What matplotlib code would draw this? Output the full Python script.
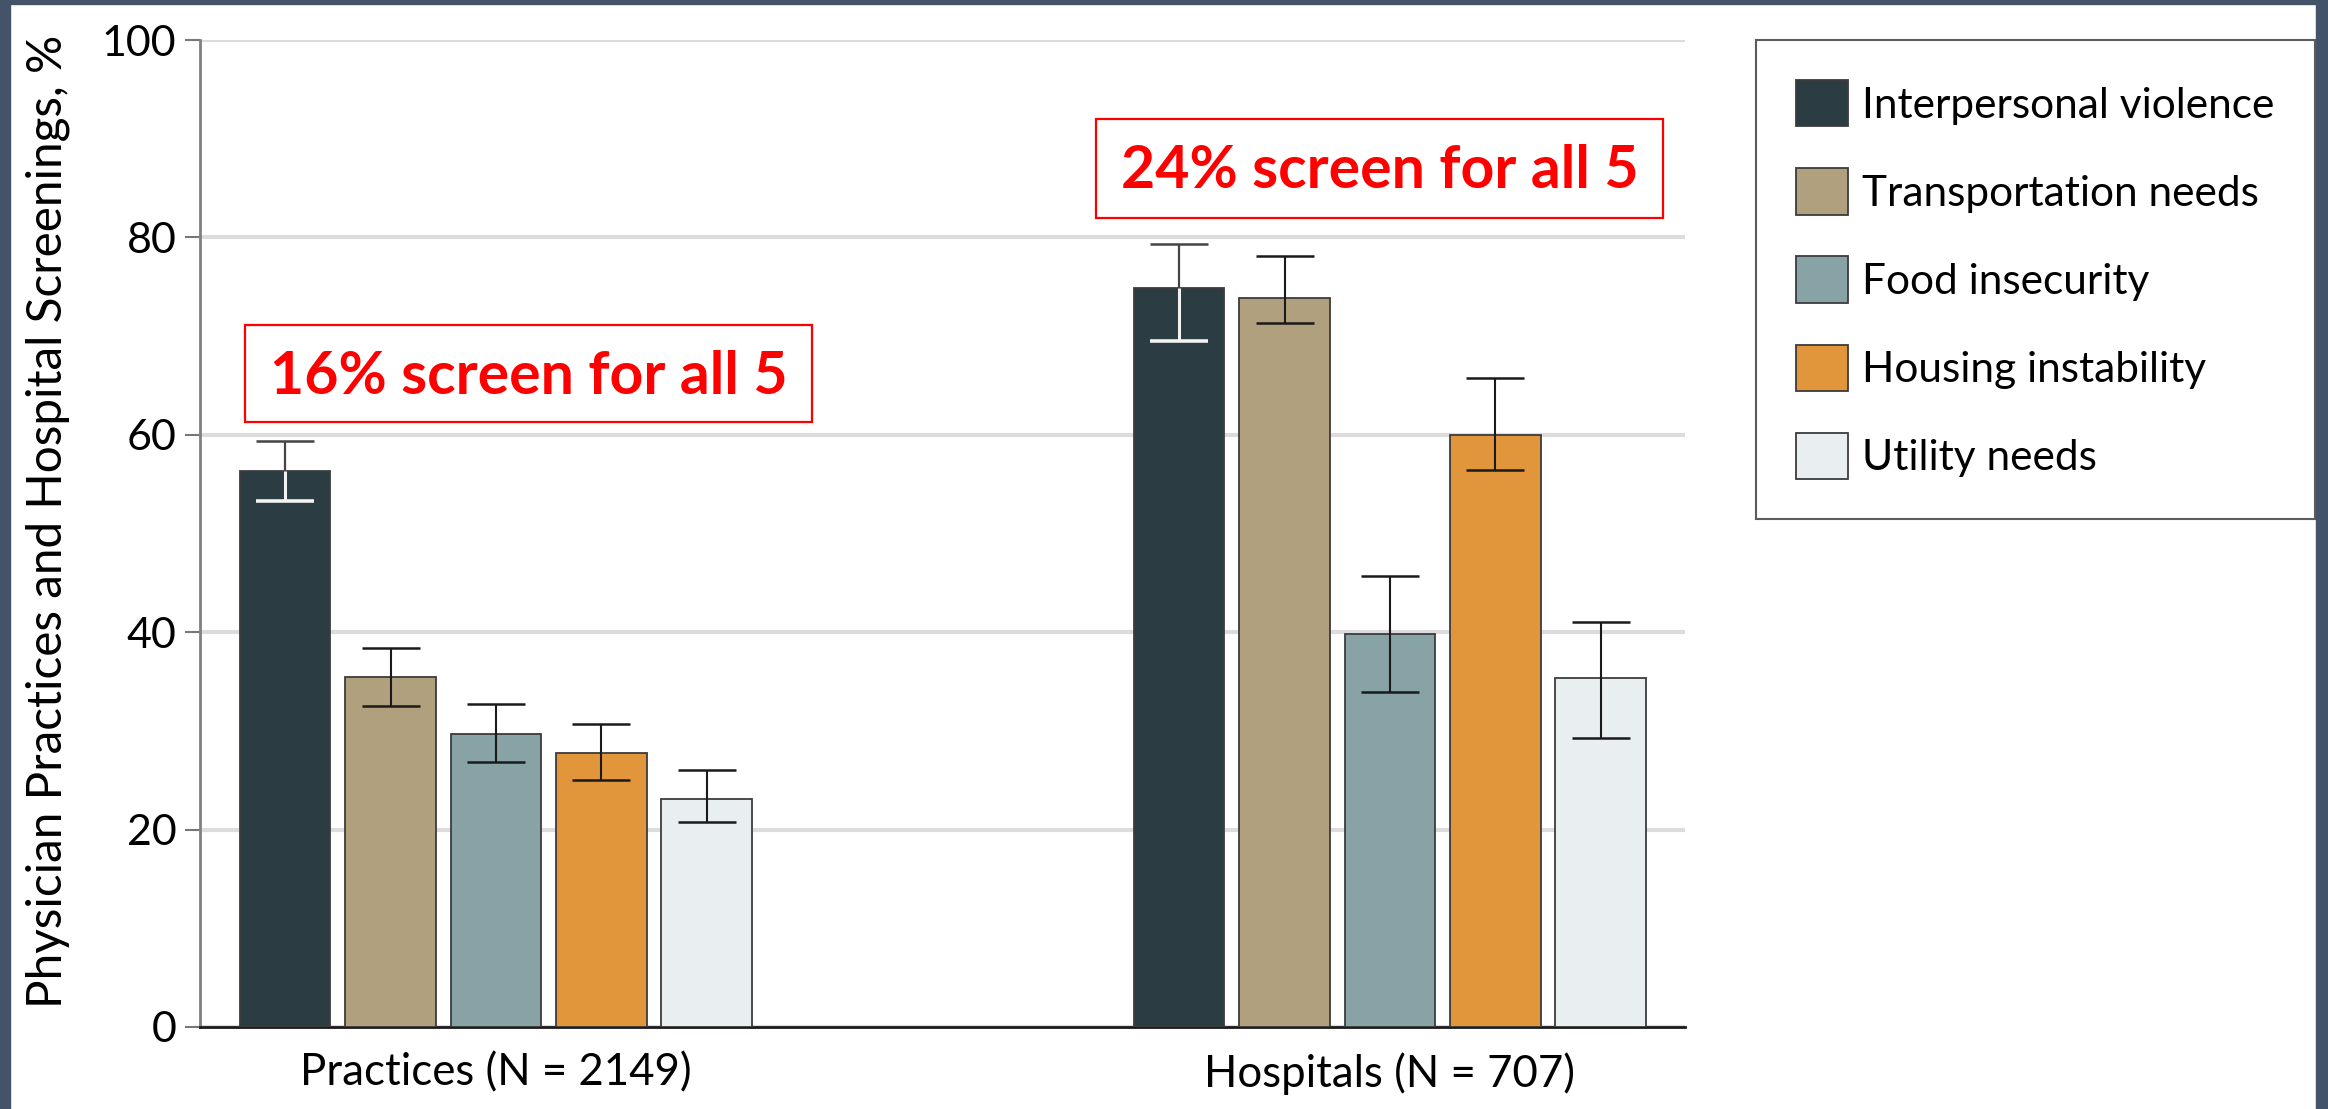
import matplotlib
matplotlib.use("Agg")
import matplotlib.pyplot as plt
from matplotlib.patches import Rectangle, Patch
import numpy as np

# ---- data ----
groups = ["Practices (N = 2149)", "Hospitals (N = 707)"]
categories = ["Interpersonal violence", "Transportation needs", "Food insecurity",
              "Housing instability", "Utility needs"]
practices = [56.3, 35.5, 29.7, 27.8, 23.1]
practices_lo = [53.3, 32.5, 26.8, 25.0, 20.8]
practices_hi = [59.4, 38.4, 32.7, 30.7, 26.0]
hospitals = [74.9, 73.9, 39.8, 60.0, 35.4]
hospitals_lo = [69.5, 71.3, 33.9, 56.4, 29.3]
hospitals_hi = [79.3, 78.1, 45.7, 65.8, 41.0]
yticks = [0, 20, 40, 60, 80, 100]
notes = ["16% screen for all 5", "24% screen for all 5"]

colors = ["#2b3d42", "#b0a07e", "#87a3a6", "#e2963c", "#e9eff0"]

W, H = 2328, 1109
fig = plt.figure(figsize=(W / 100, H / 100), dpi=100)
fig.patch.set_facecolor("white")

# frame border (dark slate) on left, top, right
border = "#445468"
fig.add_artist(Rectangle((0, 0), 10 / W, 1, transform=fig.transFigure, color=border, zorder=10))
fig.add_artist(Rectangle((0, 1 - 4 / H), 1, 4 / H, transform=fig.transFigure, color=border, zorder=10))
fig.add_artist(Rectangle((1 - 12 / W, 0), 12 / W, 1, transform=fig.transFigure, color=border, zorder=10))

ax = fig.add_axes([200 / W, 1 - 1027 / H, (1685 - 200) / W, (1027 - 40) / H])

font = "Lato"

gx = np.arange(len(groups))
spacing = 0.1179
width = 0.1013
offsets = (np.arange(len(categories)) - 2) * spacing

means = [practices, hospitals]
los = [practices_lo, hospitals_lo]
his = [practices_hi, hospitals_hi]

for i, cat in enumerate(categories):
    xs = gx + offsets[i]
    vals = [means[g][i] for g in range(2)]
    ax.bar(xs, vals, width=width, color=colors[i], edgecolor="#3c3c3c",
           linewidth=1.3, zorder=3, label=cat)
    for g in range(2):
        m = means[g][i]
        lo = los[g][i]
        hi = his[g][i]
        if i == 0:
            # upper part (outside bar) dark, lower part (inside dark bar) white
            _, caps, _ = ax.errorbar([xs[g]], [m], yerr=[[0], [hi - m]], fmt="none",
                                     ecolor="#444444", elinewidth=1.6, capsize=21,
                                     capthick=1.8, zorder=4)
            caps[0].set_visible(False)
            _, caps, _ = ax.errorbar([xs[g]], [m], yerr=[[m - lo], [0]], fmt="none",
                                     ecolor="#f2f2f2", elinewidth=2.2, capsize=21,
                                     capthick=2.6, zorder=4)
            caps[1].set_visible(False)
        else:
            ax.errorbar([xs[g]], [m], yerr=[[m - lo], [hi - m]], fmt="none",
                        ecolor="#1a1a1a", elinewidth=1.5, capsize=21, capthick=1.8, zorder=4)

ax.set_xlim(-0.331, 1.330)
ax.set_ylim(0, 100)
ax.set_yticks(yticks)
ax.set_yticklabels([str(t) for t in yticks], fontfamily=font, fontsize=31)
ax.set_xticks(gx)
ax.set_xticklabels(groups, fontfamily=font, fontsize=31.5)
ax.tick_params(axis="x", length=0, pad=18)
ax.tick_params(axis="y", length=11, width=1.5, color="#777777", pad=6)
ax.yaxis.grid(True, color="#dcdcdc", linewidth=3, zorder=0)
ax.set_axisbelow(True)
for s in ["top", "right"]:
    ax.spines[s].set_visible(False)
ax.spines["left"].set_color("#808080")
ax.spines["left"].set_linewidth(2)
ax.spines["bottom"].set_color("#1a1a1a")
ax.spines["bottom"].set_linewidth(2)

ax.set_ylabel("Physician Practices and Hospital Screenings, %", fontfamily=font,
              fontsize=34.3)
ax.yaxis.set_label_coords(-0.0875, 0.512)

# annotation boxes
boxes = [((-0.2807, 61.3), 0.6343, 9.8), ((0.6712, 82.0), 0.6343, 10.0)]
for (xy, bw, bh), txt in zip(boxes, notes):
    ax.add_patch(Rectangle(xy, bw, bh, facecolor="white", edgecolor="#ff0000",
                           linewidth=1.6, zorder=5))
    ax.text(xy[0] + bw / 2, xy[1] + bh / 2 - 0.3, txt, color="#ff0000", fontfamily=font,
            fontweight="bold", fontsize=42.5, ha="center", va="center", zorder=6)

handles = [Patch(facecolor=c, edgecolor="#3c3c3c", linewidth=1.3) for c in colors]
leg = fig.legend(handles, categories, loc="upper left",
                 bbox_to_anchor=(1756 / W, 1 - 40 / H), bbox_transform=fig.transFigure,
                 prop={"family": font, "size": 30.5}, frameon=True, fancybox=False,
                 edgecolor="#333333", borderpad=0.95, labelspacing=0.99,
                 handlelength=1.22, handleheight=1.3, handletextpad=0.33, borderaxespad=0)
leg.get_frame().set_linewidth(1.5)

fig.savefig("out.png", dpi=100, facecolor="white")
